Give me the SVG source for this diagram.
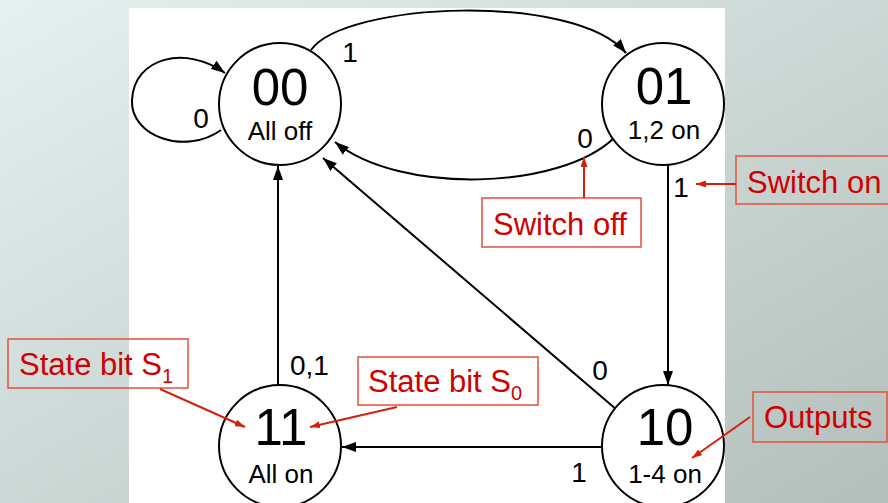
<svg xmlns="http://www.w3.org/2000/svg" width="888" height="503" viewBox="0 0 888 503">
  <defs>
    <linearGradient id="bg" x1="0" y1="0" x2="1" y2="1">
      <stop offset="0" stop-color="#e4f1ee"/>
      <stop offset="1" stop-color="#b4bfbc"/>
    </linearGradient>
    <marker id="arr" viewBox="0 0 14 10" refX="14" refY="5" markerWidth="14" markerHeight="10" markerUnits="userSpaceOnUse" orient="auto">
      <path d="M0,0 L14,5 L0,10 Z" fill="#000"/>
    </marker>
    <marker id="rarr" viewBox="0 0 10 7" refX="10" refY="3.5" markerWidth="10" markerHeight="7" markerUnits="userSpaceOnUse" orient="auto">
      <path d="M0,0 L10,3.5 L0,7 Z" fill="#d4200a"/>
    </marker>
    <style>
      .state { fill: #fff; stroke: #000; stroke-width: 2; }
      .code { font-family: "Liberation Sans", Arial, sans-serif; font-size: 51px; fill: #000; text-anchor: middle; }
      .out { font-family: "Liberation Sans", Arial, sans-serif; font-size: 26px; fill: #000; text-anchor: middle; }
      .edge { fill: none; stroke: #000; stroke-width: 2; marker-end: url(#arr); }
      .lbl { font-family: "Liberation Sans", Arial, sans-serif; font-size: 28px; fill: #000; }
      .note rect { fill: none; stroke: #e2513c; stroke-width: 1.5; }
      .note text { font-family: "Liberation Sans", Arial, sans-serif; font-size: 31px; fill: #d00000; }
      .pointer { fill: none; stroke: #d4200a; stroke-width: 2; marker-end: url(#rarr); }
    </style>
  </defs>

  <!-- slide background and white panel -->
  <rect x="0" y="0" width="888" height="503" fill="url(#bg)"/>
  <rect x="129" y="8" width="596" height="495" fill="#fff"/>

  <!-- transitions -->
  <g id="connectors">
    <path class="edge" d="M221,130 C185,156 130,136 132,100 C134,57 186,45 225,73"/>
    <path class="edge" d="M311,50 C345,2 575,-8 626,53"/>
    <path class="edge" d="M614,138 C560,190 400,195 335,142"/>
    <path class="edge" d="M617,410 L323,158"/>
    <path class="edge" d="M668,165 L668,385"/>
    <path class="edge" d="M278,385 L278,166"/>
    <path class="edge" d="M601,447 L342,447"/>
    <text class="lbl" x="201" y="128" text-anchor="middle">0</text>
    <text class="lbl" x="350" y="62" text-anchor="middle">1</text>
    <text class="lbl" x="585" y="148" text-anchor="middle">0</text>
    <text class="lbl" x="681" y="197" text-anchor="middle">1</text>
    <text class="lbl" x="290" y="375">0,1</text>
    <text class="lbl" x="600" y="380" text-anchor="middle">0</text>
    <text class="lbl" x="579" y="482" text-anchor="middle">1</text>
  </g>

  <!-- states -->
  <g id="s00">
    <circle class="state" cx="280" cy="104" r="61"/>
    <text class="code" x="280" y="105">00</text>
    <text class="out" x="280" y="140">All off</text>
  </g>
  <g id="s01">
    <circle class="state" cx="663" cy="104" r="61"/>
    <text class="code" x="664" y="104">01</text>
    <text class="out" x="664" y="139">1,2 on</text>
  </g>
  <g id="s11">
    <circle class="state" cx="280" cy="446" r="61"/>
    <text class="code" x="281" y="445">11</text>
    <text class="out" x="281" y="483">All on</text>
  </g>
  <g id="s10">
    <circle class="state" cx="663" cy="446" r="61"/>
    <text class="code" x="665" y="445">10</text>
    <text class="out" x="665" y="483">1-4 on</text>
  </g>

  <!-- annotations -->
  <g id="note-switch-on" class="note">
    <rect x="736" y="156" width="156" height="48"/>
    <text x="747" y="193">Switch on</text>
    <path class="pointer" d="M736,184 L696,184"/>
  </g>
  <g id="note-switch-off" class="note">
    <rect x="482" y="198" width="159" height="49"/>
    <text x="493" y="235">Switch off</text>
    <path class="pointer" d="M584,198 L584,157"/>
  </g>
  <g id="note-s1" class="note">
    <rect x="8" y="339" width="180" height="49"/>
    <text x="19" y="375">State bit S<tspan font-size="20" dy="8">1</tspan></text>
    <path class="pointer" d="M160,389 L245,427"/>
  </g>
  <g id="note-s0" class="note">
    <rect x="358" y="357" width="180" height="48"/>
    <text x="368" y="392">State bit S<tspan font-size="20" dy="8">0</tspan></text>
    <path class="pointer" d="M397,407 L310,427"/>
  </g>
  <g id="note-outputs" class="note">
    <rect x="753" y="392" width="134" height="50"/>
    <text x="764" y="428">Outputs</text>
    <path class="pointer" d="M750,417 L692,458"/>
  </g>
</svg>
